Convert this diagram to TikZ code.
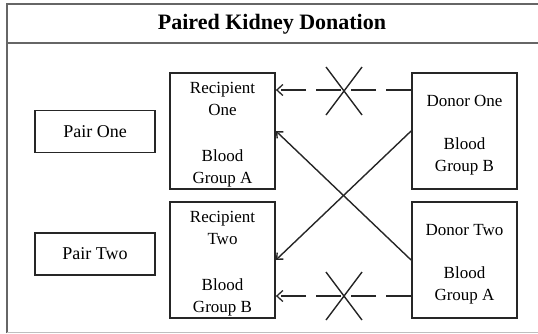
\documentclass[tikz,border=0pt]{standalone}
\usepackage{fontspec}
\setmainfont{Liberation Serif}
\usetikzlibrary{arrows.meta}
\newcommand{\topstrut}{\rule{0pt}{19pt}}
\begin{document}
\begin{tikzpicture}[x=1pt,y=-1pt,
  frame/.style={draw=black!60,line width=2.4pt},
  box/.style={draw=black!85,line width=1.8pt,minimum width=105pt,minimum height=116pt,inner sep=0pt,align=center,font=\fontsize{17}{22}\selectfont},
  pairbox/.style={draw=black!85,line width=1.8pt,minimum width=120pt,minimum height=42pt,inner sep=0pt,font=\fontsize{18}{22}\selectfont},
  conn/.style={line width=1.4pt,draw=black!85,-{Straight Barb[length=5pt,width=9pt,line width=1.4pt]}},
  dconn/.style={line width=1.4pt,draw=black!85,-{Straight Barb[length=6pt,width=11pt,line width=1.3pt]},dash pattern=on 25pt off 10pt},
  xmark/.style={line width=1.4pt,draw=black!85}]
\useasboundingbox (0,0) rectangle (538,333);
% frame
\draw[frame] (7,333) -- (7,4) -- (538,4);
\draw[frame,line width=2pt] (7,43) -- (538,43);
\draw[black!25,line width=0.8pt] (7,332) -- (538,332);
\node[font=\fontsize{22}{26}\selectfont\bfseries] (title) at (272,24) {Paired Kidney Donation};
% boxes
\node[pairbox] (p1) at (95,131.5) {Pair One};
\node[pairbox] (p2) at (95,254) {Pair Two};
\node[box] (r1) at (222.5,131) {\topstrut Recipient\\One\\[24pt]Blood\\Group A};
\node[box] (r2) at (222.5,260) {\topstrut Recipient\\Two\\[24pt]Blood\\Group B};
\node[box] (d1) at (464.5,131) {\topstrut Donor One\\[21pt]Blood\\Group B};
\node[box] (d2) at (464.5,260) {\topstrut Donor Two\\[21pt]Blood\\Group A};
% connectors
\draw[dconn] ([yshift=41pt]d1.west) -- ([yshift=41pt]r1.east);
\draw[dconn] ([yshift=-36pt]d2.west) -- ([yshift=-36pt]r2.east);
\draw[conn] (d1.west) -- (r2.east);
\draw[conn] (d2.west) -- (r1.east);
% crosses
\coordinate (x1) at (344,91);
\coordinate (x2) at (344,296);
\foreach \c in {x1,x2}{
  \draw[xmark] ([shift={(-18,-24)}]\c) -- ([shift={(18,24)}]\c);
  \draw[xmark] ([shift={(18,-24)}]\c) -- ([shift={(-18,24)}]\c);
}
\end{tikzpicture}
\end{document}
